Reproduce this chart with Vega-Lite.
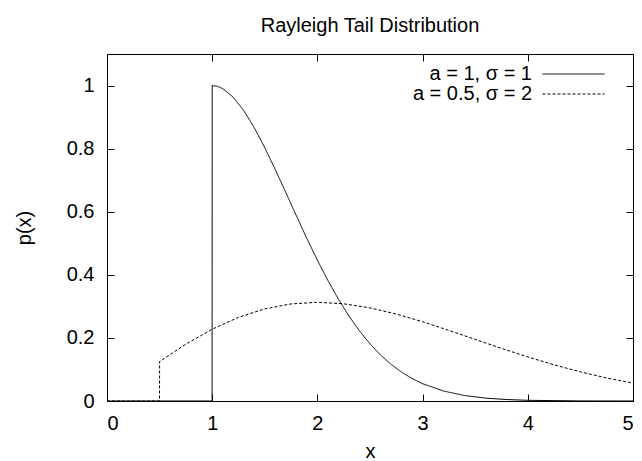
{
  "$schema": "https://vega.github.io/schema/vega-lite/v6.json",
  "width": 526,
  "height": 347,
  "autosize": {"type": "none"},
  "padding": {"left": 107, "top": 54, "right": 9, "bottom": 60},
  "title": {"text": "Rayleigh Tail Distribution", "font": "Liberation Sans", "fontSize": 20, "fontWeight": "normal", "color": "black", "anchor": "middle", "frame": "group", "baseline": "alphabetic", "offset": 2},
  "config": {
    "view": {"stroke": "black", "strokeWidth": 1},
    "font": "Liberation Sans",
    "axis": {"grid": false, "domainColor": "black", "tickColor": "black", "labelColor": "black", "titleColor": "black", "labelFont": "Liberation Sans", "titleFont": "Liberation Sans", "labelFontSize": 20, "titleFontSize": 20, "titleFontWeight": "normal", "tickSize": -7}
  },
  "data": {"values": [
    {"x": 0, "p": 0, "s": "a = 1, σ = 1"},
    {"x": 0.999, "p": 0, "s": "a = 1, σ = 1"},
    {"x": 1.0, "p": 1.0, "s": "a = 1, σ = 1"},
    {"x": 1.05, "p": 0.9975, "s": "a = 1, σ = 1"},
    {"x": 1.1, "p": 0.9903, "s": "a = 1, σ = 1"},
    {"x": 1.2, "p": 0.963, "s": "a = 1, σ = 1"},
    {"x": 1.3, "p": 0.9207, "s": "a = 1, σ = 1"},
    {"x": 1.4, "p": 0.8663, "s": "a = 1, σ = 1"},
    {"x": 1.5, "p": 0.8029, "s": "a = 1, σ = 1"},
    {"x": 1.6, "p": 0.7335, "s": "a = 1, σ = 1"},
    {"x": 1.7, "p": 0.6608, "s": "a = 1, σ = 1"},
    {"x": 1.8, "p": 0.5873, "s": "a = 1, σ = 1"},
    {"x": 1.9, "p": 0.5152, "s": "a = 1, σ = 1"},
    {"x": 2.0, "p": 0.4463, "s": "a = 1, σ = 1"},
    {"x": 2.1, "p": 0.3818, "s": "a = 1, σ = 1"},
    {"x": 2.2, "p": 0.3226, "s": "a = 1, σ = 1"},
    {"x": 2.3, "p": 0.2693, "s": "a = 1, σ = 1"},
    {"x": 2.4, "p": 0.2222, "s": "a = 1, σ = 1"},
    {"x": 2.5, "p": 0.1811, "s": "a = 1, σ = 1"},
    {"x": 2.6, "p": 0.1459, "s": "a = 1, σ = 1"},
    {"x": 2.7, "p": 0.1163, "s": "a = 1, σ = 1"},
    {"x": 2.8, "p": 0.0916, "s": "a = 1, σ = 1"},
    {"x": 2.9, "p": 0.0713, "s": "a = 1, σ = 1"},
    {"x": 3.0, "p": 0.0549, "s": "a = 1, σ = 1"},
    {"x": 3.2, "p": 0.0315, "s": "a = 1, σ = 1"},
    {"x": 3.4, "p": 0.0173, "s": "a = 1, σ = 1"},
    {"x": 3.6, "p": 0.0091, "s": "a = 1, σ = 1"},
    {"x": 3.8, "p": 0.0046, "s": "a = 1, σ = 1"},
    {"x": 4.0, "p": 0.0022, "s": "a = 1, σ = 1"},
    {"x": 4.5, "p": 0.0003, "s": "a = 1, σ = 1"},
    {"x": 5.0, "p": 0.0, "s": "a = 1, σ = 1"},
    {"x": 0, "p": 0, "s": "a = 0.5, σ = 2"},
    {"x": 0.499, "p": 0, "s": "a = 0.5, σ = 2"},
    {"x": 0.5, "p": 0.125, "s": "a = 0.5, σ = 2"},
    {"x": 0.75, "p": 0.1803, "s": "a = 0.5, σ = 2"},
    {"x": 1.0, "p": 0.2276, "s": "a = 0.5, σ = 2"},
    {"x": 1.25, "p": 0.2652, "s": "a = 0.5, σ = 2"},
    {"x": 1.5, "p": 0.2921, "s": "a = 0.5, σ = 2"},
    {"x": 1.75, "p": 0.3078, "s": "a = 0.5, σ = 2"},
    {"x": 2.0, "p": 0.3129, "s": "a = 0.5, σ = 2"},
    {"x": 2.25, "p": 0.3082, "s": "a = 0.5, σ = 2"},
    {"x": 2.5, "p": 0.2952, "s": "a = 0.5, σ = 2"},
    {"x": 2.75, "p": 0.2756, "s": "a = 0.5, σ = 2"},
    {"x": 3.0, "p": 0.2513, "s": "a = 0.5, σ = 2"},
    {"x": 3.25, "p": 0.2239, "s": "a = 0.5, σ = 2"},
    {"x": 3.5, "p": 0.1952, "s": "a = 0.5, σ = 2"},
    {"x": 3.75, "p": 0.1668, "s": "a = 0.5, σ = 2"},
    {"x": 4.0, "p": 0.1396, "s": "a = 0.5, σ = 2"},
    {"x": 4.25, "p": 0.1146, "s": "a = 0.5, σ = 2"},
    {"x": 4.5, "p": 0.0923, "s": "a = 0.5, σ = 2"},
    {"x": 4.75, "p": 0.073, "s": "a = 0.5, σ = 2"},
    {"x": 5.0, "p": 0.0567, "s": "a = 0.5, σ = 2"}
  ]},
  "layer": [
    {
      "mark": {"type": "line", "strokeWidth": 1, "clip": true},
      "encoding": {
        "x": {"field": "x", "type": "quantitative", "scale": {"domain": [0, 5], "nice": false, "zero": false},
              "axis": {"orient": "bottom", "values": [0, 1, 2, 3, 4, 5], "labelPadding": 19, "title": "x", "titlePadding": 8}},
        "y": {"field": "p", "type": "quantitative", "scale": {"domain": [0, 1.1], "nice": false},
              "axis": {"orient": "left", "values": [0, 0.2, 0.4, 0.6, 0.8, 1], "format": "~g", "labelPadding": 20, "title": "p(x)", "titlePadding": 32}},
        "color": {"field": "s", "type": "nominal", "scale": {"domain": ["a = 1, σ = 1", "a = 0.5, σ = 2"], "range": ["black", "black"]},
                  "legend": {"orient": "none", "legendX": 456.5, "legendY": 10, "title": null, "symbolType": "M-31,0H31", "symbolSize": 4, "symbolStrokeWidth": 1, "labelAlign": "right", "labelOffset": -51.5, "labelFontSize": 20, "labelFont": "Liberation Sans", "labelColor": "black", "padding": 0, "rowPadding": 0}},
        "strokeDash": {"field": "s", "type": "nominal", "scale": {"domain": ["a = 1, σ = 1", "a = 0.5, σ = 2"], "range": [[1, 0], [3, 2]]},
                  "legend": {"orient": "none", "legendX": 456.5, "legendY": 10, "title": null, "symbolType": "M-31,0H31", "symbolSize": 4, "symbolStrokeWidth": 1, "labelAlign": "right", "labelOffset": -51.5, "labelFontSize": 20, "labelFont": "Liberation Sans", "labelColor": "black", "padding": 0, "rowPadding": 0}}
      }
    },
    {
      "mark": {"type": "line", "opacity": 0},
      "encoding": {
        "x": {"field": "x", "type": "quantitative", "axis": {"orient": "top", "values": [0, 1, 2, 3, 4, 5], "labels": false, "domain": false, "title": null}},
        "y": {"field": "p", "type": "quantitative", "axis": {"orient": "right", "values": [0, 0.2, 0.4, 0.6, 0.8, 1], "labels": false, "domain": false, "title": null}},
        "detail": {"field": "s"}
      }
    }
  ],
  "resolve": {"axis": {"x": "independent", "y": "independent"}}
}
